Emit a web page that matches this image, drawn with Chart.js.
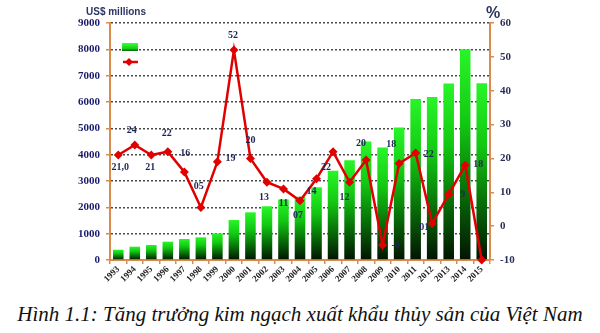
<!DOCTYPE html>
<html>
<head>
<meta charset="utf-8">
<script src="https://cdn.jsdelivr.net/npm/chart.js@4/dist/chart.umd.min.js"></script>
<style>
  html, body { margin: 0; padding: 0; background: #ffffff; }
  #wrap { position: relative; width: 600px; height: 333px; overflow: hidden; }
  #chart { position: absolute; left: 0; top: 0; }
  #caption {
    position: absolute; left: 0; top: 302px; width: 600px; text-align: center;
    font-family: "Liberation Serif", "DejaVu Serif", serif; font-style: italic;
    font-size: 21px; color: #111111; white-space: nowrap;
  }
</style>
</head>
<body>
<div id="wrap">
  <canvas id="chart" width="600" height="290"></canvas>
  <div id="caption">Hình 1.1: Tăng trưởng kim ngạch xuất khẩu thủy sản của Việt Nam</div>
</div>
<script>
// Seafood export turnover (US$ millions) and year-on-year growth (%)
const years = ['1993','1994','1995','1996','1997','1998','1999','2000','2001','2002','2003',
  '2004','2005','2006','2007','2008','2009','2010','2011','2012','2013','2014','2015'];
const exportValue = [390, 505, 570, 696, 797, 861, 1010, 1520, 1810, 2040, 2300,
  2400, 2760, 3390, 3790, 4500, 4270, 5030, 6110, 6190, 6700, 8000, 6710];
const growthRate = [21.0, 24, 21, 22, 16, 5.5, 19, 52, 20, 13, 11,
  7.5, 14, 22, 13, 19.5, -5.6, 18.5, 21.6, 0.8, 9.4, 18, -10];
const growthLabels = ['21,0','24','21','22','16','05','19','52','20','13','11',
  '07','14','22','12','20','-6','18','22','01','9','18',''];
const leftTicks = { min: 0, max: 9000, step: 1000 };
const rightTicks = { min: -10, max: 60, step: 10 };

// label placement around each growth point: [dx, dy]
const labelOffsets = [[2,12],[-3,-14],[-1,12],[-1,-18],[1,-19],[-2,-21],[13,-3],[-1,-15],[0,-18],[-3,15],[0,15],
  [-2,15],[-5,13],[-7,16],[-5,15],[-5,-17],[13,0],[-8,-19],[13,1],[-8,4],[14,0],[13,-1],[0,0]];

const axisOrange = '#dc8c4a';
const tickFont = { family: 'Liberation Serif', weight: 'bold', size: 11 };

new Chart(document.getElementById('chart'), {
  type: 'bar',
  data: {
    labels: years,
    datasets: [
      {
        type: 'bar',
        data: exportValue,
        yAxisID: 'y',
        backgroundColor(c) {
          const chart = c.chart;
          if (!chart.chartArea || c.raw === undefined) return '#10c010';
          const ys = chart.scales.y;
          const top = ys.getPixelForValue(c.raw);
          const bottom = ys.getPixelForValue(0);
          const g = chart.ctx.createLinearGradient(0, top, 0, bottom);
          g.addColorStop(0, '#28f528');
          g.addColorStop(0.35, '#12c812');
          g.addColorStop(0.7, '#076807');
          g.addColorStop(1, '#021402');
          return g;
        },
        borderWidth: 0,
        categoryPercentage: 0.64,
        barPercentage: 1,
        order: 2
      },
      {
        type: 'line',
        data: growthRate,
        yAxisID: 'y1',
        borderColor: '#e00000',
        borderWidth: 2.5,
        backgroundColor: '#e00000',
        pointStyle: 'rectRot',
        pointRadius: 4.5,
        pointBorderWidth: 0,
        pointBackgroundColor: '#e00000',
        tension: 0,
        clip: false,
        order: 1
      }
    ]
  },
  options: {
    responsive: false,
    animation: false,
    devicePixelRatio: 1,
    layout: { padding: { top: 23, left: 0, right: 0, bottom: 0 } },
    plugins: {
      legend: { display: false },
      tooltip: { enabled: false },
      title: { display: false }
    },
    scales: {
      x: {
        afterFit(s) { s.height = 30; },
        grid: { offset: true, drawOnChartArea: false, tickLength: 4, tickColor: axisOrange, lineWidth: 1.5 },
        border: { color: axisOrange, width: 2 },
        ticks: {
          minRotation: 45, maxRotation: 45, autoSkip: false, padding: 0,
          color: '#222222', font: { family: 'Liberation Serif', weight: 'bold', size: 9 }
        }
      },
      y: {
        position: 'left',
        min: leftTicks.min, max: leftTicks.max,
        afterFit(s) { s.width = 110; },
        grid: {
          drawOnChartArea: true, color: '#4a4a4a', lineWidth: 1.5,
          tickLength: 4, tickColor: axisOrange
        },
        border: { color: axisOrange, width: 2, dash: [2, 2] },
        ticks: { stepSize: leftTicks.step, padding: 6, color: '#1c1c6e', font: tickFont,
                 callback: v => String(v) }
      },
      y1: {
        position: 'right',
        min: rightTicks.min, max: rightTicks.max,
        afterFit(s) { s.width = 110; },
        grid: { drawOnChartArea: false, tickLength: 4, tickColor: axisOrange, lineWidth: 1.5 },
        border: { color: axisOrange, width: 2 },
        ticks: { stepSize: rightTicks.step, padding: 6, color: '#2a2f55', font: tickFont,
                 callback: v => String(v) }
      }
    }
  },
  plugins: [{
    id: 'pointLabels',
    afterDatasetsDraw(chart) {
      const meta = chart.getDatasetMeta(1);
      const ctx = chart.ctx;
      ctx.save();
      ctx.font = 'bold 10px "Liberation Serif"';
      ctx.fillStyle = '#1f2655';
      ctx.textAlign = 'center';
      ctx.textBaseline = 'middle';
      meta.data.forEach((pt, i) => {
        const t = growthLabels[i];
        if (!t) return;
        const o = labelOffsets[i];
        ctx.fillText(t, pt.x + o[0], pt.y + o[1]);
      });
      ctx.restore();
    }
  }, {
    id: 'decorations',
    afterDraw(chart) {
      const ctx = chart.ctx;
      const a = chart.chartArea;
      ctx.save();
      // axis titles
      ctx.fillStyle = '#2b3562';
      ctx.font = 'bold 10px "Liberation Sans"';
      ctx.textAlign = 'left';
      ctx.textBaseline = 'middle';
      ctx.fillText('US$ millions', a.left - 24, 12);
      ctx.font = 'bold 16px "Liberation Sans"';
      ctx.textAlign = 'center';
      ctx.fillText('%', a.right + 3, 14);
      // legend symbols
      const lx = a.left + 12, ly = a.top + 20;
      const g = ctx.createLinearGradient(0, ly, 0, ly + 8);
      g.addColorStop(0, '#3cff3c');
      g.addColorStop(0.7, '#10d010');
      g.addColorStop(1, '#0a5a0a');
      ctx.fillStyle = g;
      ctx.fillRect(lx, ly, 16, 8);
      const ry = a.top + 39;
      ctx.strokeStyle = '#e00000';
      ctx.lineWidth = 2.5;
      ctx.beginPath();
      ctx.moveTo(lx + 1, ry);
      ctx.lineTo(lx + 16, ry);
      ctx.stroke();
      ctx.fillStyle = '#e00000';
      ctx.beginPath();
      ctx.moveTo(lx + 7, ry - 4);
      ctx.lineTo(lx + 11, ry);
      ctx.lineTo(lx + 7, ry + 4);
      ctx.lineTo(lx + 3, ry);
      ctx.closePath();
      ctx.fill();
      ctx.restore();
    }
  }]
});
</script>
</body>
</html>
